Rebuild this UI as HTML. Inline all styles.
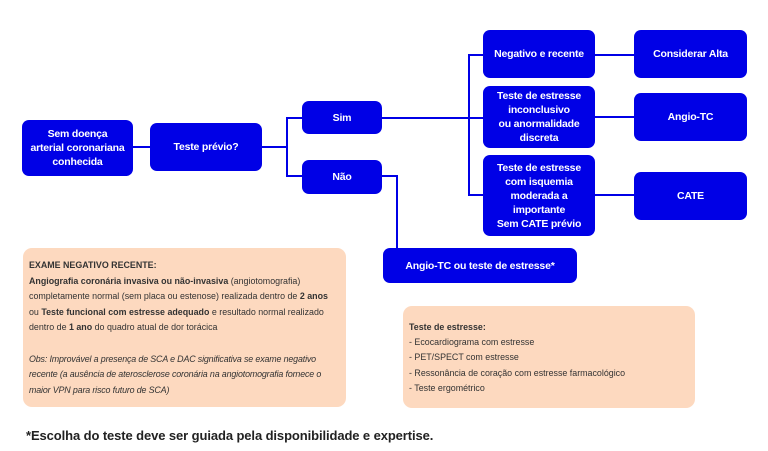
<!DOCTYPE html>
<html><head><meta charset="utf-8"><style>
body{margin:0;width:768px;height:451px;background:#fff;position:relative;overflow:hidden;font-family:"Liberation Sans",sans-serif}
.b{position:absolute;background:#0000e6;color:#fff;border-radius:7px;display:flex;align-items:center;justify-content:center;text-align:center;font-size:10.5px;line-height:14px;font-weight:bold;letter-spacing:-0.2px}
.l{position:absolute;background:#0000e6}
.p{position:absolute;background:#fdd9bf;border-radius:9px;color:#333;font-size:8.9px;line-height:15.6px;box-sizing:border-box;white-space:nowrap}
</style></head><body>
<div class="l" style="left:133px;top:146px;width:17px;height:2px"></div>
<div class="l" style="left:262px;top:146px;width:25px;height:2px"></div>
<div class="l" style="left:286px;top:117px;width:2px;height:60px"></div>
<div class="l" style="left:286px;top:117px;width:16px;height:2px"></div>
<div class="l" style="left:286px;top:175px;width:16px;height:2px"></div>
<div class="l" style="left:382px;top:117px;width:101px;height:2px"></div>
<div class="l" style="left:468px;top:54px;width:2px;height:142px"></div>
<div class="l" style="left:468px;top:54px;width:15px;height:2px"></div>
<div class="l" style="left:468px;top:194px;width:15px;height:2px"></div>
<div class="l" style="left:595px;top:54px;width:39px;height:2px"></div>
<div class="l" style="left:595px;top:116px;width:39px;height:2px"></div>
<div class="l" style="left:595px;top:194px;width:39px;height:2px"></div>
<div class="l" style="left:382px;top:175px;width:16px;height:2px"></div>
<div class="l" style="left:396px;top:175px;width:2px;height:74px"></div>

<div class="b" style="left:22px;top:120px;width:111px;height:56px">Sem doença<br>arterial coronariana<br>conhecida</div>
<div class="b" style="left:150px;top:123px;width:112px;height:48px">Teste prévio?</div>
<div class="b" style="left:302px;top:101px;width:80px;height:33px">Sim</div>
<div class="b" style="left:302px;top:160px;width:80px;height:34px">Não</div>
<div class="b" style="left:483px;top:30px;width:112px;height:48px">Negativo e recente</div>
<div class="b" style="left:483px;top:86px;width:112px;height:62px">Teste de estresse<br>inconclusivo<br>ou anormalidade<br>discreta</div>
<div class="b" style="left:483px;top:155px;width:112px;height:81px">Teste de estresse<br>com isquemia<br>moderada a<br>importante<br>Sem CATE prévio</div>
<div class="b" style="left:634px;top:30px;width:113px;height:48px">Considerar Alta</div>
<div class="b" style="left:634px;top:93px;width:113px;height:48px">Angio-TC</div>
<div class="b" style="left:634px;top:172px;width:113px;height:48px">CATE</div>
<div class="b" style="left:383px;top:248px;width:194px;height:35px">Angio-TC ou teste de estresse*</div>

<div class="p" style="left:23px;top:248px;width:323px;height:159px;padding:10px 0 0 6px">
<b>EXAME NEGATIVO RECENTE:</b><br>
<b>Angiografia coronária invasiva ou não-invasiva</b> (angiotomografia)<br>
completamente normal (sem placa ou estenose) realizada dentro de <b>2 anos</b><br>
ou <b>Teste funcional com estresse adequado</b> e resultado normal realizado<br>
dentro de <b>1 ano</b> do quadro atual de dor torácica<br><br>
<i style="letter-spacing:-0.15px">Obs: Improvável a presença de SCA e DAC significativa se exame negativo<br>
recente (a ausência de aterosclerose coronária na angiotomografia fornece o<br>
maior VPN para risco futuro de SCA)</i>
</div>
<div class="p" style="left:403px;top:306px;width:292px;height:102px;padding:14px 0 0 6px;line-height:15.2px">
<b>Teste de estresse:</b><br>
- Ecocardiograma com estresse<br>
- PET/SPECT com estresse<br>
- Ressonância de coração com estresse farmacológico<br>
- Teste ergométrico
</div>
<div style="position:absolute;left:26px;top:428px;font-size:13px;font-weight:bold;color:#222;letter-spacing:-0.1px">*Escolha do teste deve ser guiada pela disponibilidade e expertise.</div>
</body></html>
